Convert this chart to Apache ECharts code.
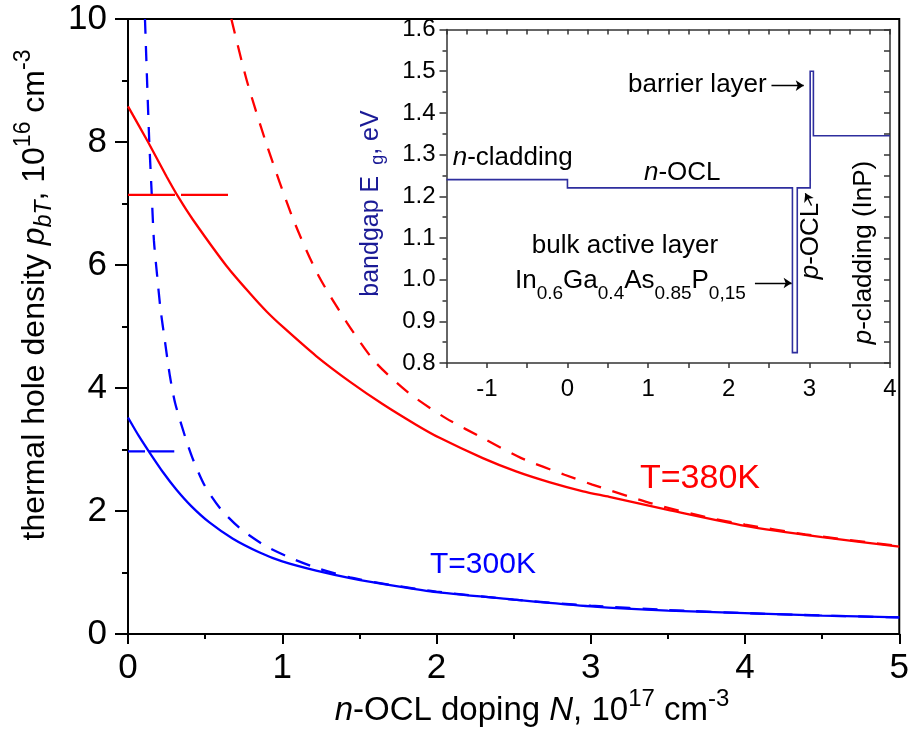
<!DOCTYPE html>
<html><head><meta charset="utf-8">
<script src="https://cdn.jsdelivr.net/npm/echarts@6/dist/echarts.min.js"></script>
<style>html,body{margin:0;padding:0;background:#fff}#c{width:912px;height:742px}</style>
</head><body><div id="c"></div>
<script>
const FONT = '"Liberation Sans", Arial, Helvetica, sans-serif';

// ---- Main plot: x = n-OCL doping N (1e17 cm^-3), y = thermal hole density p_bT (1e16 cm^-3)
const mainXTicks = [0, 1, 2, 3, 4, 5];
const mainYTicks = [0, 2, 4, 6, 8, 10];

const t300SolidN = [0, 0.07, 0.14, 0.227, 0.313, 0.41, 0.53, 0.68, 0.85, 1.0, 1.22, 1.44, 1.76, 2.0, 2.5, 3.0, 3.5, 4.0, 4.5, 5.0];
const t300SolidP = [3.52, 3.22, 2.95, 2.63, 2.35, 2.08, 1.81, 1.55, 1.33, 1.18, 1.03, 0.91, 0.77, 0.68, 0.56, 0.45, 0.38, 0.34, 0.30, 0.27];

const t300DashN = [0.11, 0.125, 0.138, 0.152, 0.168, 0.19, 0.21, 0.24, 0.272, 0.305, 0.37, 0.423, 0.50, 0.605, 0.735, 0.90, 1.07, 1.24, 1.44, 1.7, 2.0, 2.5, 3.0, 3.5, 4.0, 4.5, 5.0];
const t300DashP = [10.0, 8.9, 8.0, 7.25, 6.4, 5.8, 5.3, 4.75, 4.19, 3.76, 3.21, 2.83, 2.40, 2.02, 1.70, 1.42, 1.22, 1.06, 0.92, 0.80, 0.69, 0.56, 0.46, 0.39, 0.34, 0.30, 0.27];

const t380SolidN = [0, 0.13, 0.25, 0.33, 0.42, 0.64, 0.79, 0.90, 1.01, 1.22, 1.44, 1.65, 1.87, 2.02, 2.30, 2.52, 2.73, 2.95, 3.12, 3.5, 4.0, 4.5, 5.0];
const t380SolidP = [8.58, 8.0, 7.44, 7.09, 6.74, 5.98, 5.54, 5.24, 4.98, 4.52, 4.10, 3.74, 3.40, 3.19, 2.86, 2.64, 2.47, 2.32, 2.23, 2.02, 1.76, 1.575, 1.42];

const t380DashN = [0.67, 0.77, 0.90, 1.07, 1.23, 1.42, 1.60, 1.82, 2.06, 2.32, 2.55, 2.83, 3.01, 3.4, 3.75, 4.0, 4.39, 5.0];
const t380DashP = [10.0, 9.0, 7.95, 6.75, 5.85, 5.06, 4.43, 3.92, 3.51, 3.16, 2.86, 2.59, 2.43, 2.12, 1.90, 1.78, 1.62, 1.43];

const t380RefN = [0, 0.67];
const t380RefP = [7.14, 7.14];
const t300RefN = [0, 0.30];
const t300RefP = [2.97, 2.97];

// ---- Inset: bandgap profile vs transverse position x (um)
const insetXLabels = [-1, 0, 1, 2, 3, 4];
const insetPosX = [-1.5, 0, 0, 2.79, 2.79, 2.85, 2.85, 3.01, 3.01, 3.05, 3.05, 4.0];
const insetEg   = [1.24, 1.24, 1.22, 1.22, 0.825, 0.825, 1.22, 1.22, 1.5, 1.5, 1.345, 1.345];

// arrow annotations in inset coordinates [x0, y0, x1, y1]
const arrowBarrier = [2.53, 1.4655, 2.93, 1.4655];
const arrowActive  = [2.325, 0.992, 2.78, 0.992];
const arrowPOCL    = [3.027, 1.1775, 2.95, 1.207];

const zip = (xs, ys) => xs.map((x, i) => [x, ys[i]]);

const chart = echarts.init(document.getElementById('c'), null, {renderer: 'canvas'});

const blk = '#000';
const insetAxisColor = '#333';
const navy = '#2e2e9e';

function txt(x, y, text, size, opts) {
  opts = opts || {};
  const base = {fontFamily: FONT, fontSize: size};
  const rich = {
    i:   {fontFamily: FONT, fontSize: size, fontStyle: 'italic', fill: opts.fill || blk},
    sup: {fontFamily: FONT, fontSize: Math.round(size * 0.72), padding: [0, 0, Math.round(size * 0.72), 0], fill: opts.fill || blk},
    sub: {fontFamily: FONT, fontSize: Math.round(size * 0.72), padding: [Math.round(size * 0.75), 0, 0, 0], fill: opts.fill || blk},
    isub:{fontFamily: FONT, fontSize: Math.round(size * 0.72), fontStyle: 'italic', padding: [Math.round(size * 0.6), 0, 0, 0], fill: opts.fill || blk}
  };
  if (opts.rich) Object.assign(rich, opts.rich);
  return {
    type: 'text', x: x, y: y, rotation: opts.rotation || 0, silent: true, z: 100,
    style: Object.assign(base, {
      text: text, fill: opts.fill || blk,
      align: opts.align || 'left', verticalAlign: 'middle', rich: rich
    })
  };
}

const mkArrow = a => [{coord: [a[0], a[1]]}, {coord: [a[2], a[3]]}];

function curve(name, n, p, color, dash) {
  return {name: name, type: 'line', xAxisIndex: 0, yAxisIndex: 0, data: zip(n, p),
    smooth: 0.25, symbol: 'none', showSymbol: false,
    lineStyle: {color: color, width: 2.3, type: dash || 'solid', dashOffset: 0, cap: 'butt'}};
}

const option = {
  animation: false,
  backgroundColor: '#fff',
  textStyle: {fontFamily: FONT},
  grid: [
    {left: 128, right: 12, top: 19, bottom: 108, show: true, borderColor: blk, borderWidth: 2, backgroundColor: 'transparent'},
    {left: 446.5, right: 22, top: 29.5, bottom: 379}
  ],
  xAxis: [
    {gridIndex: 0, type: 'value', min: mainXTicks[0], max: mainXTicks[mainXTicks.length - 1], interval: 1,
     axisLine: {show: true, onZero: false, lineStyle: {color: blk, width: 2}},
     axisTick: {show: true, length: 10, lineStyle: {color: blk, width: 2}},
     minorTick: {show: true, splitNumber: 2, length: 5, lineStyle: {color: blk, width: 2}},
     splitLine: {show: false},
     axisLabel: {fontSize: 35, color: blk, margin: 17, fontFamily: FONT}},
    {gridIndex: 1, type: 'value', position: 'bottom', min: -1.5, max: 4, interval: 0.5,
     axisLine: {show: true, onZero: false, lineStyle: {color: insetAxisColor, width: 1.5}},
     axisTick: {show: true, length: 5, lineStyle: {color: insetAxisColor, width: 1.5}},
     splitLine: {show: false},
     axisLabel: {fontSize: 24, color: blk, margin: 14, fontFamily: FONT,
       formatter: v => insetXLabels.some(t => Math.abs(t - v) < 1e-9) ? String(Math.round(v)) : ''}},
    {gridIndex: 1, type: 'value', position: 'top', min: -1.5, max: 4, interval: 0.25,
     axisLine: {show: true, onZero: false, lineStyle: {color: insetAxisColor, width: 1.5}},
     axisTick: {show: true, inside: true, length: 5, lineStyle: {color: insetAxisColor, width: 1.5}},
     splitLine: {show: false}, axisLabel: {show: false}}
  ],
  yAxis: [
    {gridIndex: 0, type: 'value', min: mainYTicks[0], max: mainYTicks[mainYTicks.length - 1], interval: 2,
     axisLine: {show: true, onZero: false, lineStyle: {color: blk, width: 2}},
     axisTick: {show: true, length: 13, lineStyle: {color: blk, width: 2}},
     minorTick: {show: true, splitNumber: 2, length: 6, lineStyle: {color: blk, width: 2}},
     splitLine: {show: false},
     axisLabel: {fontSize: 35, color: blk, margin: 21, fontFamily: FONT}},
    {gridIndex: 1, type: 'value', position: 'left', min: 0.8, max: 1.6, interval: 0.1,
     axisLine: {show: true, onZero: false, lineStyle: {color: insetAxisColor, width: 1.5}},
     axisTick: {show: true, length: 7, lineStyle: {color: insetAxisColor, width: 1.5}},
     minorTick: {show: true, splitNumber: 2, length: 4, lineStyle: {color: insetAxisColor, width: 1.5}},
     splitLine: {show: false},
     axisLabel: {fontSize: 24, color: blk, margin: 11, fontFamily: FONT, formatter: v => v.toFixed(1)}},
    {gridIndex: 1, type: 'value', position: 'right', min: 0.8, max: 1.6, interval: 0.05,
     axisLine: {show: true, onZero: false, lineStyle: {color: insetAxisColor, width: 1.5}},
     axisTick: {show: true, inside: true, length: 6, lineStyle: {color: insetAxisColor, width: 1.5}},
     splitLine: {show: false}, axisLabel: {show: false}}
  ],
  series: [
    curve('T=300K', t300SolidN, t300SolidP, '#0000ff'),
    curve('T=300K (dashed)', t300DashN, t300DashP, '#0000ff', [15, 12]),
    curve('T=380K', t380SolidN, t380SolidP, '#ff0000'),
    curve('T=380K (dashed)', t380DashN, t380DashP, '#ff0000', [15, 12]),
    {name: 'T=380K ref', type: 'line', xAxisIndex: 0, yAxisIndex: 0, data: zip(t380RefN, t380RefP),
     symbol: 'none', lineStyle: {color: '#ff0000', width: 2.3, type: [47, 6], dashOffset: 0}},
    {name: 'T=300K ref', type: 'line', xAxisIndex: 0, yAxisIndex: 0, data: zip(t300RefN, t300RefP),
     symbol: 'none', lineStyle: {color: '#0000ff', width: 2.3, type: [17, 4, 26, 6], dashOffset: 0}},
    {name: 'Bandgap', type: 'line', xAxisIndex: 1, yAxisIndex: 1, data: zip(insetPosX, insetEg),
     symbol: 'none', lineStyle: {color: navy, width: 1.6, join: 'miter'},
     markLine: {silent: true, symbol: ['none', 'arrow'], symbolSize: 8, animation: false,
       label: {show: false}, emphasis: {disabled: true},
       lineStyle: {color: blk, width: 1.3, type: 'solid'},
       data: [mkArrow(arrowBarrier), mkArrow(arrowActive), mkArrow(arrowPOCL)]}}
  ],
  graphic: [
    txt(532, 711, '{i|n}-OCL doping {i|N}, 10{sup|17} cm{sup|-3}', 33, {align: 'center'}),
    txt(35.5, 295, 'thermal hole density {i|p}{isub|bT}, 10{sup|16} cm{sup|-3}', 32, {align: 'center', rotation: Math.PI / 2}),
    txt(640, 479, 'T=380K', 34, {fill: '#ff0000'}),
    txt(430, 564.5, 'T=300K', 30, {fill: '#0000ff'}),
    txt(371, 203.5, 'bandgap E {sub|g}, eV', 25, {align: 'center', rotation: Math.PI / 2, fill: '#1a1a96',
      rich: {sub: {fontFamily: FONT, fontSize: 18, padding: [14, 0, 0, 4], fill: '#1a1a96'}}}),
    txt(452.7, 158, '{i|n}-cladding', 26),
    txt(644, 172.6, '{i|n}-OCL', 26),
    txt(628, 85, 'barrier layer', 26),
    txt(625, 246, 'bulk active layer', 26, {align: 'center'}),
    txt(515, 281, 'In{sub|0.6}Ga{sub|0.4}As{sub|0.85}P{sub|0,15}', 26,
      {rich: {sub: {fontFamily: FONT, fontSize: 19, padding: [25, 0, 0, 0], fill: blk}}}),
    txt(811, 241, '{i|p}-OCL', 26, {align: 'center', rotation: Math.PI / 2}),
    txt(864, 252.5, '{i|p}-cladding (InP)', 26, {align: 'center', rotation: Math.PI / 2})
  ]
};
chart.setOption(option);
</script>
</body></html>
